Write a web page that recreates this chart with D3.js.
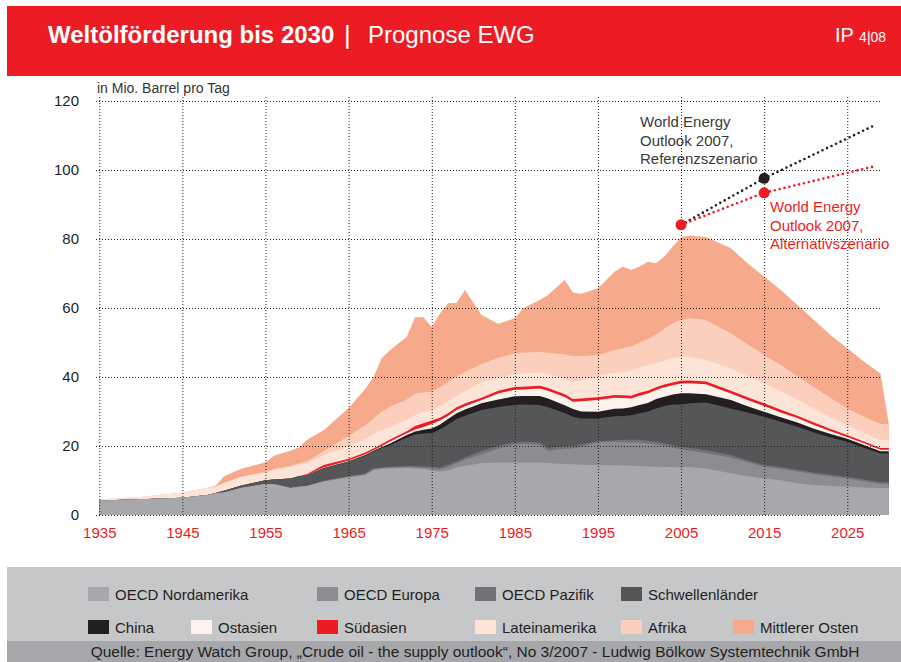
<!DOCTYPE html>
<html lang="de">
<head>
<meta charset="UTF-8">
<title>Weltölförderung bis 2030</title>
<script src="https://d3js.org/d3.v7.min.js"></script>
<style>
  body { margin: 0; background: #fff; }
  svg { display: block; font-family: "Liberation Sans", Arial, Helvetica, sans-serif; }
</style>
</head>
<body>
<svg id="chart" width="901" height="662"></svg>
<script>
// Jahre (Stützstellen)
const years = [
  1935, 1940, 1945, 1948, 1949, 1950, 1952, 1955, 1956, 1958,
  1959, 1960, 1962, 1965, 1967, 1968, 1969, 1970, 1972, 1973,
  1974, 1975, 1976, 1977, 1978, 1979, 1981, 1983, 1985, 1986,
  1988, 1989, 1991, 1992, 1993, 1995, 1997, 1998, 1999, 2000,
  2001, 2002, 2003, 2004, 2005, 2006, 2008, 2011, 2013, 2015,
  2017, 2019, 2021, 2023, 2025, 2027, 2029, 2030
];

const regions = [
  "OECD Nordamerika", "OECD Europa", "OECD Pazifik", "Schwellenländer",
  "China", "Ostasien", "Südasien", "Lateinamerika", "Afrika", "Mittlerer Osten"
];

// Förderung in Mio. Barrel pro Tag
const nordamerika = [
  4.2, 4.6, 5.0, 5.8, 6.3, 6.5, 7.8, 9.0, 9.0, 7.8,
  8.2, 8.4, 9.7, 10.9, 11.5, 13.0, 13.3, 13.5, 13.6, 13.5,
  13.3, 13.0, 12.6, 12.9, 13.8, 14.3, 15.0, 15.2, 15.2, 15.2,
  15.2, 15.0, 14.8, 14.7, 14.6, 14.5, 14.4, 14.4, 14.3, 14.2,
  14.1, 14.0, 13.9, 13.9, 13.8, 13.9, 13.5, 12.1, 11.2, 10.6,
  10.1, 9.2, 8.6, 8.4, 8.2, 8.0, 7.8, 7.8
];
const europa = [
  0, 0, 0, 0, 0, 0, 0, 0, 0, 0,
  0, 0, 0.1, 0.2, 0.3, 0.3, 0.3, 0.3, 0.3, 0.3,
  0.4, 0.5, 0.6, 1.0, 1.2, 1.7, 2.6, 4.0, 5.3, 5.4,
  5.1, 3.6, 4.4, 4.6, 5.2, 6.5, 6.8, 6.7, 6.7, 6.8,
  6.6, 6.4, 6.1, 5.6, 5.2, 4.7, 4.4, 4.6, 4.1, 3.4,
  3.3, 3.4, 3.2, 2.8, 2.4, 1.8, 1.2, 1.2
];
const pazifik = [
  0, 0, 0, 0, 0, 0, 0, 0, 0, 0,
  0, 0, 0.1, 0.2, 0.2, 0.2, 0.2, 0.2, 0.3, 0.4,
  0.4, 0.5, 0.6, 0.7, 0.6, 0.7, 1.0, 0.9, 0.6, 0.6,
  0.7, 0.9, 0.8, 0.7, 0.7, 0.4, 0.5, 0.7, 0.8, 0.8,
  0.8, 0.8, 0.8, 0.8, 0.8, 0.9, 0.9, 0.7, 0.6, 0.5,
  0.5, 0.5, 0.5, 0.5, 0.5, 0.5, 0.5, 0.5
];
const schwellenlaender = [
  0, 0, 0, 0, 0.1, 0.5, 0.7, 1.1, 1.3, 2.8,
  3.0, 3.2, 3.6, 4.2, 5.2, 4.9, 5.6, 6.2, 8.3, 9.1,
  9.5, 9.8, 11.0, 11.7, 12.2, 12.1, 11.8, 11.2, 10.8, 10.8,
  10.9, 11.7, 9.6, 8.5, 7.5, 6.6, 6.9, 6.9, 7.1, 7.7,
  8.5, 9.7, 10.8, 11.7, 12.2, 12.9, 13.8, 13.5, 13.8, 14.0,
  13.1, 12.5, 11.6, 10.8, 10.1, 9.2, 8.3, 8.3
];
const china = [
  0, 0, 0, 0, 0, 0, 0, 0, 0, 0,
  0, 0, 0.1, 0.1, 0.2, 0.2, 0.3, 0.5, 0.7, 0.9,
  1.1, 1.3, 1.4, 1.6, 1.7, 1.8, 2.0, 2.2, 2.5, 2.5,
  2.6, 2.6, 2.2, 2.2, 2.0, 1.9, 2.2, 2.2, 2.3, 2.4,
  2.5, 2.7, 2.7, 2.9, 3.3, 2.9, 2.4, 2.4, 1.8, 1.4,
  1.3, 1.2, 1.1, 1.0, 0.9, 0.8, 0.7, 0.7
];
const ostasien = [
  0, 0, 0, 0, 0, 0, 0, 0, 0, 0,
  0, 0.1, 0.2, 0.2, 0.2, 0.2, 0.3, 0.6, 0.5, 0.6,
  0.8, 1.3, 1.2, 0.9, 0.9, 0.9, 0.9, 1.7, 1.9, 1.9,
  2.2, 2.2, 2.4, 2.1, 3.0, 3.4, 3.2, 3.0, 2.6, 2.7,
  2.7, 2.6, 2.7, 2.7, 2.8, 2.9, 2.9, 1.9, 1.8, 1.7,
  1.4, 1.3, 1.1, 0.8, 0.5, 0.5, 0.4, 0.4
];
const suedasien = [
  0, 0, 0, 0, 0, 0, 0, 0, 0, 0,
  0, 0.2, 0.7, 0.5, 0.5, 0.5, 0.6, 0.6, 0.6, 1.0,
  1.1, 1.0, 0.8, 0.8, 0.8, 0.8, 0.7, 0.8, 0.8, 0.8,
  0.8, 0.8, 0.8, 0.8, 0.8, 0.8, 0.8, 0.8, 0.8, 0.8,
  0.8, 0.8, 0.8, 0.8, 0.8, 0.8, 0.8, 0.8, 0.8, 0.8,
  0.8, 0.7, 0.7, 0.6, 0.6, 0.5, 0.5, 0.5
];
const lateinamerika = [
  0.3, 0.6, 1.5, 2.0, 1.8, 2.3, 2.5, 2.3, 2.9, 3.4,
  3.4, 3.1, 2.8, 3.5, 3.9, 4.2, 4.0, 3.7, 3.3, 3.2,
  3.2, 3.0, 3.4, 3.4, 3.4, 3.5, 4.5, 3.8, 3.7, 3.8,
  3.8, 4.0, 4.6, 5.0, 5.2, 6.2, 6.4, 6.7, 7.3, 7.4,
  7.4, 7.0, 7.0, 7.0, 7.0, 6.8, 6.3, 6.5, 6.2, 5.8,
  5.3, 4.6, 4.0, 3.5, 2.9, 2.5, 2.3, 2.3
];
const afrika = [
  0, 0, 0, 0, 0, 0, 0, 0.1, 0.1, 0.2,
  0.4, 0.6, 1.2, 3.2, 4.0, 4.5, 5.4, 5.8, 5.9, 6.2,
  5.8, 5.3, 5.4, 5.6, 5.6, 5.7, 5.3, 5.8, 6.1, 6.0,
  6.0, 6.2, 7.0, 7.5, 7.0, 6.1, 6.6, 6.9, 7.0, 7.1,
  7.6, 8.3, 9.2, 10.2, 10.7, 11.2, 11.5, 10.2, 9.2, 8.2,
  7.7, 6.8, 6.2, 5.5, 4.8, 4.7, 4.7, 4.7
];
const mittlererOsten = [
  0, 0, 0, 0, 0.3, 1.9, 2.3, 2.8, 3.9, 4.4,
  4.6, 6.2, 6.1, 8.0, 10.5, 12.0, 15.5, 16.4, 18.2, 22.1,
  21.7, 18.8, 21.5, 22.8, 21.3, 23.7, 14.2, 9.8, 10.1, 12.9,
  15.0, 16.8, 21.5, 18.4, 18.1, 19.3, 22.7, 23.7, 22.1, 22.1,
  22.4, 20.7, 20.9, 22.2, 23.9, 24.0, 24.1, 24.6, 23.5, 22.7,
  21.7, 20.7, 19.5, 18.3, 17.4, 16.0, 14.6, 0
];

// World Energy Outlook 2007
const weoYears = [2005, 2015, 2028.5];
const referenz = [84.1, 97.6, 113.2];
const alternativ = [84.1, 93.4, 101.2];

const yTicks = [0, 20, 40, 60, 80, 100, 120];
const xTicks = [1935, 1945, 1955, 1965, 1975, 1985, 1995, 2005, 2015, 2025];

const seriesValues = [nordamerika, europa, pazifik, schwellenlaender, china,
  ostasien, suedasien, lateinamerika, afrika, mittlererOsten];
const colors = ["#a7a8ab", "#8c8d90", "#727376", "#555658", "#231f20",
  "#fdf3ec", "#ed1c24", "#fde4d9", "#fbcfbb", "#f7a98b"];

const rows = years.map((yr, i) => {
  const r = { year: yr };
  regions.forEach((k, j) => r[k] = seriesValues[j][i]);
  return r;
});

const svg = d3.select("#chart");
const ink = "#231f20";
const red = "#ed1c24";

// Kopfzeile
svg.append("rect").attr("x", 7).attr("y", 6).attr("width", 894).attr("height", 70).attr("fill", red);
svg.append("text").attr("x", 48).attr("y", 43).attr("fill", "#fff")
  .attr("font-size", 24).attr("font-weight", "bold").text("Weltölförderung bis 2030");
svg.append("text").attr("x", 344).attr("y", 44).attr("fill", "#fff")
  .attr("font-size", 26).text("|");
svg.append("text").attr("x", 368).attr("y", 43).attr("fill", "#fff")
  .attr("font-size", 24).text("Prognose EWG");
const ip = svg.append("text").attr("x", 835).attr("y", 42).attr("fill", "#fff");
ip.append("tspan").attr("font-size", 20).text("IP ");
ip.append("tspan").attr("font-size", 14).text("4|08");

// Skalen
const x = d3.scaleLinear().domain([1935, 2030]).range([99.3, 888.8]);
const y = d3.scaleLinear().domain([0, 120]).range([515, 101]);

// gestapelte Flächen (von oben nach unten gemalt, jede bis zur Nulllinie -> keine Fugen)
const stacked = d3.stack().keys(regions)(rows);
const area = d3.area()
  .x(d => x(d.data.year))
  .y0(y(0))
  .y1(d => y(d[1]));

svg.append("g").selectAll("path")
  .data(stacked.slice().reverse())
  .join("path")
  .attr("d", area)
  .attr("fill", d => colors[d.index]);

// Gitter + Achsen
const yAxis = svg.append("g")
  .attr("transform", "translate(96,0)")
  .call(d3.axisLeft(y).tickValues(yTicks).tickSize(-784).tickPadding(17));
const xAxis = svg.append("g")
  .attr("transform", "translate(0,515)")
  .call(d3.axisBottom(x).tickValues(xTicks).tickSize(-418).tickPadding(12).tickFormat(d3.format("d")));

[yAxis, xAxis].forEach(g => {
  g.select(".domain").remove();
  g.selectAll(".tick line").attr("stroke", ink).attr("stroke-width", 1).attr("stroke-dasharray", "1,2");
  g.selectAll(".tick text").attr("font-family", "Liberation Sans, Arial, sans-serif");
});
yAxis.selectAll(".tick text").attr("font-size", 15).attr("fill", ink);
xAxis.selectAll(".tick text").attr("font-size", 15).attr("fill", red);

svg.append("text").attr("x", 97).attr("y", 93).attr("font-size", 14).attr("fill", "#333")
  .text("in Mio. Barrel pro Tag");

// Szenarien
const weoLine = d3.line().x(d => x(d[0])).y(d => y(d[1]));
const ref = weoYears.map((yr, i) => [yr, referenz[i]]);
const alt = weoYears.map((yr, i) => [yr, alternativ[i]]);
svg.append("path").attr("d", weoLine(ref)).attr("fill", "none").attr("stroke", ink)
  .attr("stroke-width", 2.6).attr("stroke-linecap", "round").attr("stroke-dasharray", "0,5");
svg.append("path").attr("d", weoLine(alt)).attr("fill", "none").attr("stroke", red)
  .attr("stroke-width", 2.6).attr("stroke-linecap", "round").attr("stroke-dasharray", "0,5");
svg.append("circle").attr("cx", x(weoYears[1])).attr("cy", y(referenz[1])).attr("r", 5.5).attr("fill", ink);
svg.append("circle").attr("cx", x(weoYears[1])).attr("cy", y(alternativ[1])).attr("r", 5.5).attr("fill", red);
svg.append("circle").attr("cx", x(weoYears[0])).attr("cy", y(alternativ[0])).attr("r", 5.5).attr("fill", red);

const refLabel = svg.append("text").attr("font-size", 15).attr("fill", "#3a3a3a");
["World Energy", "Outlook 2007,", "Referenzszenario"].forEach((t, i) =>
  refLabel.append("tspan").attr("x", 640).attr("y", 127 + i * 18.5).text(t));
const altLabel = svg.append("text").attr("font-size", 15).attr("fill", red);
["World Energy", "Outlook 2007,", "Alternativszenario"].forEach((t, i) =>
  altLabel.append("tspan").attr("x", 770).attr("y", 212 + i * 18.5).text(t));

// Legende
svg.append("rect").attr("x", 7).attr("y", 567).attr("width", 894).attr("height", 74).attr("fill", "#c6c7c9");
svg.append("rect").attr("x", 7).attr("y", 641).attr("width", 894).attr("height", 21).attr("fill", "#a6a7aa");

const legendLayout = [
  { x: 88, row: 0 }, { x: 317, row: 0 }, { x: 475, row: 0 }, { x: 621, row: 0 },
  { x: 88, row: 1 }, { x: 191, row: 1 }, { x: 317, row: 1 }, { x: 475, row: 1 },
  { x: 621, row: 1 }, { x: 733, row: 1 }
];
const legend = svg.append("g").selectAll("g").data(regions).join("g")
  .attr("transform", (d, i) => `translate(${legendLayout[i].x},${587 + legendLayout[i].row * 33})`);
legend.append("rect").attr("width", 21).attr("height", 14).attr("fill", (d, i) => colors[i]);
legend.append("text").attr("x", 27).attr("y", 13).attr("font-size", 15).attr("fill", ink).text(d => d);

svg.append("text").attr("x", 475).attr("y", 657).attr("text-anchor", "middle")
  .attr("font-size", 15.5).attr("fill", ink)
  .text("Quelle: Energy Watch Group, „Crude oil - the supply outlook“, No 3/2007 - Ludwig Bölkow Systemtechnik GmbH");
</script>
</body>
</html>
